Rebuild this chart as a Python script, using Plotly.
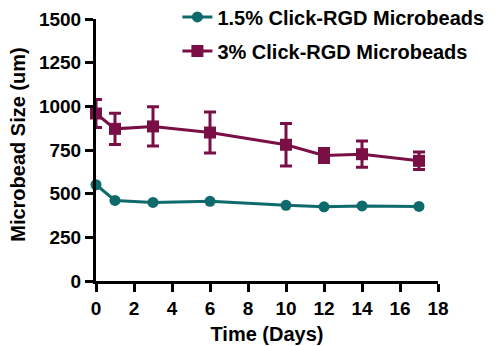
import plotly.graph_objects as go

days = [0, 1, 3, 6, 10, 12, 14, 17]
size_15 = [551, 461, 450, 456, 433, 425, 430, 427]
size_3 = [959, 871, 885, 850, 780, 719, 726, 688]
err_3 = [80, 90, 112, 117, 122, 40, 75, 50]
x_ticks = [0, 2, 4, 6, 8, 10, 12, 14, 16, 18]
y_ticks = [0, 250, 500, 750, 1000, 1250, 1500]

teal = "#0f6b6b"
maroon = "#7a0f46"
font = "Liberation Sans"

fig = go.Figure()
fig.add_trace(go.Scatter(
    x=days, y=size_15, mode="lines+markers", name="<b>1.5% Click-RGD Microbeads</b>",
    line=dict(color=teal, width=3), marker=dict(symbol="circle", size=11, color=teal),
    cliponaxis=False, legend="legend", showlegend=True))
fig.add_trace(go.Scatter(
    x=days, y=size_3, mode="lines+markers", name="<b>3% Click-RGD Microbeads</b>",
    line=dict(color=maroon, width=3), marker=dict(symbol="square", size=12, color=maroon),
    error_y=dict(type="data", array=err_3, color=maroon, thickness=3, width=6),
    cliponaxis=False, legend="legend2", showlegend=True))

axis_common = dict(showline=True, linecolor="black", linewidth=3, ticks="outside",
                   ticklen=8, tickwidth=3, tickcolor="black", showgrid=False, zeroline=False,
                   automargin=False,
                   tickfont=dict(family=font, size=19, color="black"))

fig.update_layout(
    width=498, height=346,
    margin=dict(l=88, r=68, t=11, b=73, autoexpand=False),
    plot_bgcolor="white", paper_bgcolor="white",
    showlegend=True,
    xaxis=dict(range=[0, 18], tickvals=x_ticks, ticktext=[f"<b>{v}</b>" for v in x_ticks],
               title=dict(text="<b>Time (Days)</b>", font=dict(family=font, size=20, color="black"), standoff=10),
               **axis_common),
    yaxis=dict(range=[0, 1500], tickvals=y_ticks, ticktext=[f"<b>{v}</b>" for v in y_ticks],
               **axis_common),
    annotations=[dict(text="<b>Microbead Size (um)</b>", textangle=-90, showarrow=False,
                      xref="paper", yref="paper", x=-0.228, y=0.52, xanchor="center", yanchor="middle",
                      font=dict(family=font, size=20, color="black"))],
    legend=dict(x=0.238, y=1.008, xanchor="left", yanchor="middle", bgcolor="rgba(0,0,0,0)",
                font=dict(family=font, size=20, color="black"), itemwidth=30),
    legend2=dict(x=0.238, y=0.878, xanchor="left", yanchor="middle", bgcolor="rgba(0,0,0,0)",
                 font=dict(family=font, size=20, color="black"), itemwidth=30),
)

fig.write_html("out.html")
